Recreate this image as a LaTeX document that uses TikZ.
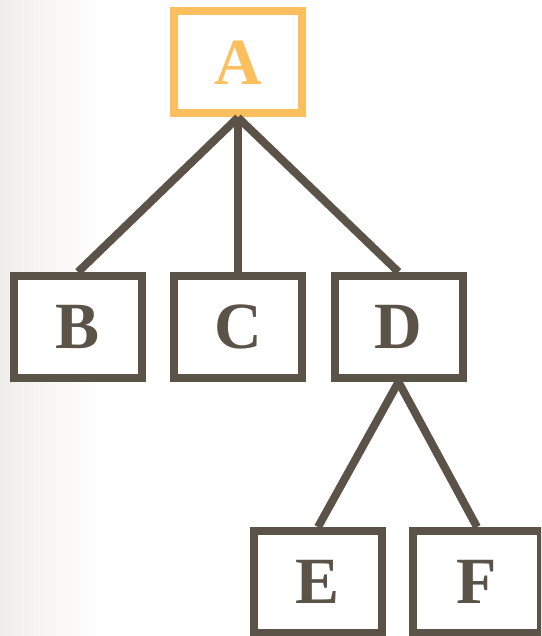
\documentclass[tikz,border=0pt]{standalone}
\usepackage{fontspec}
\newfontfamily\treefont{Liberation Serif Bold}
\definecolor{treebrown}{HTML}{5B5248}
\definecolor{treeorange}{HTML}{FBBF5E}
\definecolor{bgleft}{HTML}{F0EEEA}
\begin{document}
\begin{tikzpicture}[x=1pt,y=-1pt,
  treebox/.style={draw=treebrown,line width=8pt,minimum width=128pt,minimum height=102pt,inner sep=0pt,
    text=treebrown,font=\treefont\fontsize{66}{66}\selectfont,fill=white},
  rootbox/.style={treebox,draw=treeorange,text=treeorange},
  link/.style={draw=treebrown,line width=8pt}]
\useasboundingbox (0,0) rectangle (541,636);
\clip (0,0) rectangle (541,636);
\fill[white] (0,0) rectangle (541,636);
\shade[left color=bgleft,right color=white] (0,0) rectangle (100,636);
\node[rootbox] (A) at (238,62.5) {A};
\node[treebox] (B) at (78,327) {B};
\node[treebox] (C) at (238,327) {C};
\node[treebox] (D) at (398.5,327) {D};
\node[treebox] (E) at (318,582) {E};
\node[treebox] (F) at (477,582) {F};
\draw[link] (A.south) -- (B.north);
\draw[link] (A.south) -- (C.north);
\draw[link] (A.south) -- (D.north);
\draw[link] (D.south) -- (E.north);
\draw[link] (D.south) -- (F.north);
\end{tikzpicture}
\end{document}
